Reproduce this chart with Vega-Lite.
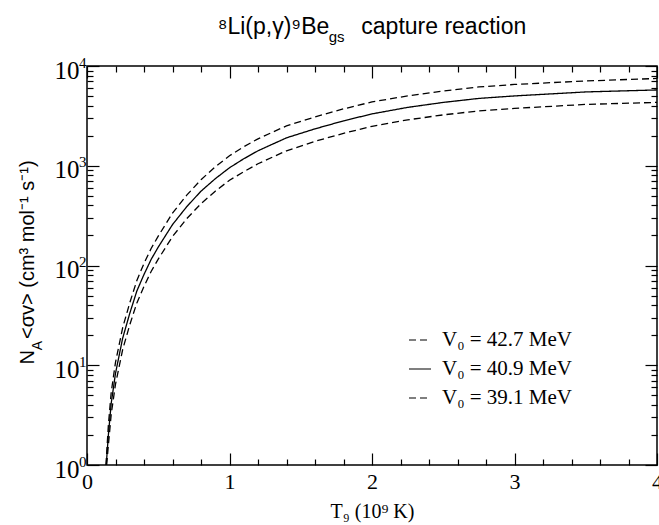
{
  "$schema": "https://vega.github.io/schema/vega-lite/v6.json",
  "width": 570,
  "height": 399,
  "autosize": {"type": "none"},
  "padding": {"left": 87, "top": 66, "right": 2, "bottom": 60},
  "background": "white",
  "title": {
    "text": "⁸Li(p,γ)⁹Be\u00a0\u00a0\u00a0\u00a0\u00a0capture reaction",
    "subtitle": "gs\u00a0\u00a0\u00a0\u00a0\u00a0\u00a0\u00a0\u00a0\u00a0\u00a0\u00a0\u00a0\u00a0\u00a0\u00a0\u00a0\u00a0\u200b",
    "font": "Liberation Sans",
    "fontSize": 23,
    "fontWeight": "normal",
    "color": "black",
    "subtitleFont": "Liberation Sans",
    "subtitleFontSize": 15,
    "subtitleColor": "black",
    "subtitlePadding": -9,
    "anchor": "middle",
    "frame": "group",
    "offset": 10
  },
  "data": {
    "values": [
      {"T": 0.133, "rate": 1, "s": "V₀ = 42.7 MeV"},
      {"T": 0.15, "rate": 2.51, "s": "V₀ = 42.7 MeV"},
      {"T": 0.17, "rate": 5.37, "s": "V₀ = 42.7 MeV"},
      {"T": 0.2, "rate": 10.7, "s": "V₀ = 42.7 MeV"},
      {"T": 0.25, "rate": 23.7, "s": "V₀ = 42.7 MeV"},
      {"T": 0.3, "rate": 42.2, "s": "V₀ = 42.7 MeV"},
      {"T": 0.35, "rate": 70.8, "s": "V₀ = 42.7 MeV"},
      {"T": 0.4, "rate": 105, "s": "V₀ = 42.7 MeV"},
      {"T": 0.45, "rate": 148, "s": "V₀ = 42.7 MeV"},
      {"T": 0.5, "rate": 197, "s": "V₀ = 42.7 MeV"},
      {"T": 0.6, "rate": 335, "s": "V₀ = 42.7 MeV"},
      {"T": 0.7, "rate": 507, "s": "V₀ = 42.7 MeV"},
      {"T": 0.8, "rate": 724, "s": "V₀ = 42.7 MeV"},
      {"T": 0.9, "rate": 977, "s": "V₀ = 42.7 MeV"},
      {"T": 1.0, "rate": 1259, "s": "V₀ = 42.7 MeV"},
      {"T": 1.1, "rate": 1549, "s": "V₀ = 42.7 MeV"},
      {"T": 1.2, "rate": 1862, "s": "V₀ = 42.7 MeV"},
      {"T": 1.4, "rate": 2512, "s": "V₀ = 42.7 MeV"},
      {"T": 1.6, "rate": 3090, "s": "V₀ = 42.7 MeV"},
      {"T": 1.8, "rate": 3715, "s": "V₀ = 42.7 MeV"},
      {"T": 2.0, "rate": 4365, "s": "V₀ = 42.7 MeV"},
      {"T": 2.25, "rate": 5012, "s": "V₀ = 42.7 MeV"},
      {"T": 2.5, "rate": 5623, "s": "V₀ = 42.7 MeV"},
      {"T": 2.75, "rate": 6166, "s": "V₀ = 42.7 MeV"},
      {"T": 3.0, "rate": 6531, "s": "V₀ = 42.7 MeV"},
      {"T": 3.5, "rate": 7079, "s": "V₀ = 42.7 MeV"},
      {"T": 4.0, "rate": 7499, "s": "V₀ = 42.7 MeV"},
      {"T": 0.135, "rate": 1, "s": "V₀ = 40.9 MeV"},
      {"T": 0.15, "rate": 2.0, "s": "V₀ = 40.9 MeV"},
      {"T": 0.17, "rate": 4.17, "s": "V₀ = 40.9 MeV"},
      {"T": 0.2, "rate": 8.3, "s": "V₀ = 40.9 MeV"},
      {"T": 0.25, "rate": 18.6, "s": "V₀ = 40.9 MeV"},
      {"T": 0.3, "rate": 33.1, "s": "V₀ = 40.9 MeV"},
      {"T": 0.35, "rate": 55.6, "s": "V₀ = 40.9 MeV"},
      {"T": 0.4, "rate": 81.3, "s": "V₀ = 40.9 MeV"},
      {"T": 0.45, "rate": 115, "s": "V₀ = 40.9 MeV"},
      {"T": 0.5, "rate": 153, "s": "V₀ = 40.9 MeV"},
      {"T": 0.6, "rate": 257, "s": "V₀ = 40.9 MeV"},
      {"T": 0.7, "rate": 389, "s": "V₀ = 40.9 MeV"},
      {"T": 0.8, "rate": 556, "s": "V₀ = 40.9 MeV"},
      {"T": 0.9, "rate": 741, "s": "V₀ = 40.9 MeV"},
      {"T": 1.0, "rate": 955, "s": "V₀ = 40.9 MeV"},
      {"T": 1.1, "rate": 1175, "s": "V₀ = 40.9 MeV"},
      {"T": 1.2, "rate": 1413, "s": "V₀ = 40.9 MeV"},
      {"T": 1.4, "rate": 1905, "s": "V₀ = 40.9 MeV"},
      {"T": 1.6, "rate": 2344, "s": "V₀ = 40.9 MeV"},
      {"T": 1.8, "rate": 2818, "s": "V₀ = 40.9 MeV"},
      {"T": 2.0, "rate": 3311, "s": "V₀ = 40.9 MeV"},
      {"T": 2.25, "rate": 3846, "s": "V₀ = 40.9 MeV"},
      {"T": 2.5, "rate": 4315, "s": "V₀ = 40.9 MeV"},
      {"T": 2.75, "rate": 4732, "s": "V₀ = 40.9 MeV"},
      {"T": 3.0, "rate": 5012, "s": "V₀ = 40.9 MeV"},
      {"T": 3.5, "rate": 5495, "s": "V₀ = 40.9 MeV"},
      {"T": 4.0, "rate": 5754, "s": "V₀ = 40.9 MeV"},
      {"T": 0.138, "rate": 1, "s": "V₀ = 39.1 MeV"},
      {"T": 0.15, "rate": 1.58, "s": "V₀ = 39.1 MeV"},
      {"T": 0.17, "rate": 3.24, "s": "V₀ = 39.1 MeV"},
      {"T": 0.2, "rate": 6.46, "s": "V₀ = 39.1 MeV"},
      {"T": 0.25, "rate": 14.3, "s": "V₀ = 39.1 MeV"},
      {"T": 0.3, "rate": 25.4, "s": "V₀ = 39.1 MeV"},
      {"T": 0.35, "rate": 42.2, "s": "V₀ = 39.1 MeV"},
      {"T": 0.4, "rate": 61.7, "s": "V₀ = 39.1 MeV"},
      {"T": 0.45, "rate": 87.1, "s": "V₀ = 39.1 MeV"},
      {"T": 0.5, "rate": 116, "s": "V₀ = 39.1 MeV"},
      {"T": 0.6, "rate": 195, "s": "V₀ = 39.1 MeV"},
      {"T": 0.7, "rate": 295, "s": "V₀ = 39.1 MeV"},
      {"T": 0.8, "rate": 417, "s": "V₀ = 39.1 MeV"},
      {"T": 0.9, "rate": 556, "s": "V₀ = 39.1 MeV"},
      {"T": 1.0, "rate": 716, "s": "V₀ = 39.1 MeV"},
      {"T": 1.1, "rate": 871, "s": "V₀ = 39.1 MeV"},
      {"T": 1.2, "rate": 1047, "s": "V₀ = 39.1 MeV"},
      {"T": 1.4, "rate": 1413, "s": "V₀ = 39.1 MeV"},
      {"T": 1.6, "rate": 1758, "s": "V₀ = 39.1 MeV"},
      {"T": 1.8, "rate": 2113, "s": "V₀ = 39.1 MeV"},
      {"T": 2.0, "rate": 2483, "s": "V₀ = 39.1 MeV"},
      {"T": 2.25, "rate": 2884, "s": "V₀ = 39.1 MeV"},
      {"T": 2.5, "rate": 3236, "s": "V₀ = 39.1 MeV"},
      {"T": 2.75, "rate": 3548, "s": "V₀ = 39.1 MeV"},
      {"T": 3.0, "rate": 3758, "s": "V₀ = 39.1 MeV"},
      {"T": 3.5, "rate": 4121, "s": "V₀ = 39.1 MeV"},
      {"T": 4.0, "rate": 4315, "s": "V₀ = 39.1 MeV"}
    ]
  },
  "layer": [
    {
      "mark": {"type": "line", "color": "black", "strokeWidth": 1.3},
      "encoding": {
        "x": {"field": "T", "type": "quantitative",
          "scale": {"domain": [0, 4], "nice": false, "zero": false},
          "axis": {"orient": "bottom", "values": [0, 1, 2, 3, 4], "format": "d", "ticks": false, "domain": false,
            "labelFont": "Liberation Serif", "labelFontSize": 22, "labelBaseline": "alphabetic", "labelPadding": 23,
            "title": "T₉ (10⁹ K)", "titleFont": "Liberation Serif", "titleFontSize": 20, "titleFontWeight": "normal",
            "titleY": 52, "titleBaseline": "alphabetic"}},
        "y": {"field": "rate", "type": "quantitative",
          "scale": {"type": "log", "domain": [1, 10000], "nice": false},
          "axis": {"orient": "left", "values": [1, 10, 100, 1000, 10000], "labelExpr": "'10'", "ticks": false, "domain": false,
            "labelFont": "Liberation Serif", "labelFontSize": 25, "labelPadding": 8, "labelOffset": 4, "labelBaseline": "middle",
            "title": "N\u00a0\u00a0<σv> (cm³ mol⁻¹ s⁻¹)", "titleFont": "Liberation Sans", "titleFontSize": 20, "titleFontWeight": "normal",
            "titleAngle": 270, "titleX": -54, "titleY": 196, "titleAlign": "center", "titleBaseline": "alphabetic"}},
        "strokeDash": {"field": "s", "type": "nominal",
          "sort": ["V₀ = 42.7 MeV", "V₀ = 40.9 MeV", "V₀ = 39.1 MeV"],
          "scale": {"domain": ["V₀ = 42.7 MeV", "V₀ = 40.9 MeV", "V₀ = 39.1 MeV"], "range": [[7, 4], [1, 0], [7, 4]]},
          "legend": {"orient": "none", "legendX": 321, "legendY": 262, "title": null, "symbolType": "stroke", "symbolSize": 484,
            "symbolStrokeWidth": 1.2, "symbolStrokeColor": "black", "symbolDash": [5, 3], "labelFont": "Liberation Serif", "labelFontSize": 21,
            "labelColor": "black", "labelOffset": 10, "rowPadding": 7, "labelLimit": 300}}
      }
    },
    {
      "mark": {"type": "point", "opacity": 0},
      "encoding": {
        "x": {"field": "T", "type": "quantitative", "scale": {"domain": [0, 4], "nice": false, "zero": false},
          "axis": {"orient": "bottom", "values": [0, 1, 2, 3, 4], "labels": false, "domain": false, "offset": -12, "tickSize": 12, "title": null}},
        "y": {"field": "rate", "type": "quantitative", "scale": {"type": "log", "domain": [1, 10000], "nice": false},
          "axis": {"orient": "left", "values": [1, 10, 100, 1000, 10000], "labelExpr": "'' + round(log(datum.value)/LN10)", "ticks": false, "domain": false,
            "labelFont": "Liberation Serif", "labelFontSize": 15, "labelPadding": 1, "labelOffset": -4, "labelBaseline": "middle", "labelAlign": "right",
            "title": "A", "titleFont": "Liberation Sans", "titleFontSize": 14, "titleFontWeight": "normal",
            "titleAngle": 270, "titleX": -50, "titleY": 279, "titleAlign": "center", "titleBaseline": "middle"}}
      }
    },
    {
      "mark": {"type": "point", "opacity": 0},
      "encoding": {
        "x": {"field": "T", "type": "quantitative", "scale": {"domain": [0, 4], "nice": false, "zero": false},
          "axis": {"orient": "bottom", "values": [0.2, 0.4, 0.6, 0.8, 1.2, 1.4, 1.6, 1.8, 2.2, 2.4, 2.6, 2.8, 3.2, 3.4, 3.6, 3.8], "labels": false, "domain": false, "offset": -6, "tickSize": 6, "title": null}},
        "y": {"field": "rate", "type": "quantitative", "scale": {"type": "log", "domain": [1, 10000], "nice": false},
          "axis": {"orient": "left", "values": [1, 10, 100, 1000, 10000], "labels": false, "domain": false, "offset": -12, "tickSize": 12, "title": null}}
      }
    },
    {
      "mark": {"type": "point", "opacity": 0},
      "encoding": {
        "x": {"field": "T", "type": "quantitative", "scale": {"domain": [0, 4], "nice": false, "zero": false},
          "axis": {"orient": "top", "values": [0, 1, 2, 3, 4], "labels": false, "domain": false, "offset": -12, "tickSize": 12, "title": null}},
        "y": {"field": "rate", "type": "quantitative", "scale": {"type": "log", "domain": [1, 10000], "nice": false},
          "axis": {"orient": "left", "values": [2, 3, 4, 5, 6, 7, 8, 9, 20, 30, 40, 50, 60, 70, 80, 90, 200, 300, 400, 500, 600, 700, 800, 900, 2000, 3000, 4000, 5000, 6000, 7000, 8000, 9000], "labels": false, "domain": false, "offset": -6, "tickSize": 6, "title": null}}
      }
    },
    {
      "mark": {"type": "point", "opacity": 0},
      "encoding": {
        "x": {"field": "T", "type": "quantitative", "scale": {"domain": [0, 4], "nice": false, "zero": false},
          "axis": {"orient": "top", "values": [0.2, 0.4, 0.6, 0.8, 1.2, 1.4, 1.6, 1.8, 2.2, 2.4, 2.6, 2.8, 3.2, 3.4, 3.6, 3.8], "labels": false, "domain": false, "offset": -6, "tickSize": 6, "title": null}},
        "y": {"field": "rate", "type": "quantitative", "scale": {"type": "log", "domain": [1, 10000], "nice": false},
          "axis": {"orient": "right", "values": [1, 10, 100, 1000, 10000], "labels": false, "domain": false, "offset": -12, "tickSize": 12, "title": null}}
      }
    },
    {
      "mark": {"type": "point", "opacity": 0},
      "encoding": {
        "x": {"field": "T", "type": "quantitative", "scale": {"domain": [0, 4], "nice": false, "zero": false}, "axis": null},
        "y": {"field": "rate", "type": "quantitative", "scale": {"type": "log", "domain": [1, 10000], "nice": false},
          "axis": {"orient": "right", "values": [2, 3, 4, 5, 6, 7, 8, 9, 20, 30, 40, 50, 60, 70, 80, 90, 200, 300, 400, 500, 600, 700, 800, 900, 2000, 3000, 4000, 5000, 6000, 7000, 8000, 9000], "labels": false, "domain": false, "offset": -6, "tickSize": 6, "title": null}}
      }
    }
  ],
  "resolve": {"axis": {"x": "independent", "y": "independent"}},
  "config": {
    "view": {"stroke": "black", "strokeWidth": 1.5},
    "axis": {"grid": false, "labelColor": "black", "titleColor": "black", "tickColor": "black", "domainColor": "black",
      "tickWidth": 1.2, "labelFlush": false, "labelOverlap": false, "labelBound": false}
  }
}
